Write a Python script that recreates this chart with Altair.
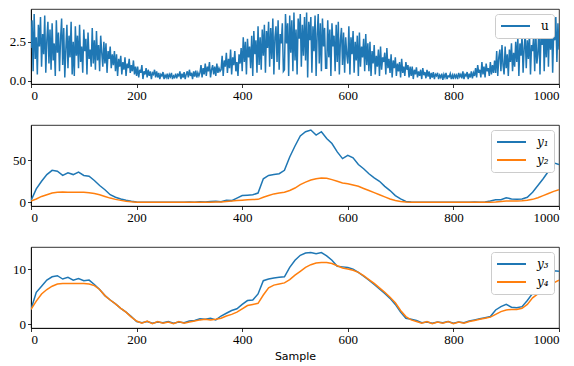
import altair as alt
import pandas as pd

# ---- data ----
u_samples = list(range(0, 1001, 2))
u_values = [
    2.1, 3.9, 0.6, 4.3, 1.4, 2.8, 0.4, 3.6, 2.2, 4.1, 0.9, 3.0, 1.7, 4.2, 0.5, 2.6, 3.8, 1.1, 3.3, 0.7,
    3.7, 1.3, 2.4, 0.3, 3.9, 1.8, 3.1, 0.6, 2.7, 4.0, 1.0, 3.4, 0.2, 2.0, 3.6, 0.8, 2.9, 1.5, 3.8, 0.4,
    2.5, 0.3, 3.5, 1.6, 2.9, 0.8, 3.6, 1.2, 2.2, 0.5, 3.3, 1.9, 2.7, 0.4, 3.1, 1.4, 2.0, 0.9, 3.4, 1.1,
    2.6, 0.7, 3.2, 1.3, 2.3, 0.6, 2.9, 1.8, 0.9, 2.5, 1.1, 2.4, 0.5, 1.9, 1.4, 2.2, 0.8, 1.7, 1.0, 1.9,
    0.6, 1.7, 0.3, 1.4, 0.9, 1.6, 0.4, 1.2, 0.7, 1.5, 0.3, 1.1, 0.8, 1.4, 0.5, 1.0, 0.6, 1.3, 0.4, 0.9,
    0.3, 0.9, 0.2, 0.7, 0.5, 1.0, 0.1, 0.6, 0.4, 0.8, 0.2, 0.7, 0.3, 0.6, 0.1, 0.5, 0.4, 0.7, 0.2, 0.6,
    0.2, 0.5, 0.1, 0.4, 0.3, 0.55, 0.1, 0.35, 0.2, 0.45, 0.1, 0.4, 0.25, 0.5, 0.1, 0.3, 0.2, 0.45, 0.15, 0.4,
    0.3, 0.6, 0.1, 0.45, 0.2, 0.55, 0.1, 0.4, 0.6, 0.2, 0.7, 0.3, 0.5, 0.1, 0.6, 0.25, 0.65, 0.2, 0.5, 0.3,
    0.5, 1.0, 0.2, 0.8, 0.4, 1.1, 0.3, 0.9, 0.6, 1.2, 0.2, 0.7, 1.0, 0.4, 0.9, 0.3, 1.1, 0.5, 0.8, 0.6,
    0.7, 1.6, 0.3, 1.3, 0.9, 1.8, 0.5, 1.4, 0.8, 2.0, 0.4, 1.5, 1.0, 1.9, 0.6, 1.2, 0.3, 1.7, 1.1, 2.1,
    0.6, 2.8, 1.2, 2.5, 0.4, 2.7, 1.5, 2.2, 0.8, 2.9, 0.3, 3.2, 1.7, 2.6, 0.5, 3.5, 1.0, 2.8, 0.7, 3.3,
    1.6, 3.6, 0.5, 3.2, 2.1, 3.8, 0.9, 3.4, 1.4, 4.0, 0.4, 2.8, 3.5, 1.2, 3.9, 0.7, 3.0, 2.4, 3.7, 0.6,
    0.7, 4.3, 2.4, 3.7, 0.3, 4.2, 1.8, 3.9, 0.6, 4.4, 1.3, 3.3, 0.4, 4.0, 2.7, 4.3, 0.9, 3.6, 1.6, 4.1,
    1.3, 4.4, 0.2, 3.8, 2.6, 4.1, 0.5, 3.5, 1.9, 4.2, 0.3, 3.0, 4.3, 1.1, 3.7, 0.6, 4.0, 2.2, 3.4, 0.8,
    0.8, 3.9, 1.5, 3.3, 0.3, 3.7, 2.2, 2.9, 0.6, 3.6, 1.2, 3.8, 0.4, 2.6, 3.4, 1.0, 3.1, 0.5, 2.8, 1.7,
    1.1, 3.5, 0.4, 2.8, 1.7, 3.2, 0.5, 2.5, 1.3, 2.9, 0.3, 3.1, 0.9, 2.2, 1.5, 2.7, 0.6, 3.0, 1.0, 2.4,
    0.6, 2.5, 0.3, 1.9, 1.1, 2.3, 0.4, 1.6, 0.9, 2.0, 0.3, 2.2, 0.7, 1.5, 1.2, 1.8, 0.4, 2.1, 0.8, 1.4,
    0.5, 1.7, 0.2, 1.3, 0.8, 1.5, 0.3, 1.1, 0.6, 1.2, 0.2, 1.4, 0.5, 0.9, 0.3, 1.2, 0.7, 1.0, 0.2, 0.9,
    0.3, 0.9, 0.1, 0.7, 0.4, 0.85, 0.2, 0.6, 0.3, 0.7, 0.1, 0.8, 0.35, 0.55, 0.15, 0.7, 0.25, 0.6, 0.1, 0.5,
    0.2, 0.55, 0.1, 0.4, 0.3, 0.5, 0.1, 0.35, 0.2, 0.45, 0.05, 0.4, 0.2, 0.5, 0.1, 0.3, 0.25, 0.45, 0.1, 0.35,
    0.1, 0.45, 0.2, 0.35, 0.1, 0.5, 0.25, 0.4, 0.15, 0.6, 0.1, 0.4, 0.3, 0.55, 0.1, 0.45, 0.2, 0.6, 0.15, 0.5,
    0.3, 0.8, 0.2, 1.0, 0.5, 0.7, 0.2, 1.2, 0.4, 0.9, 0.2, 1.1, 0.6, 0.8, 0.3, 1.2, 0.4, 1.0, 0.5, 1.3,
    0.5, 1.9, 0.3, 1.5, 2.0, 0.6, 2.3, 1.0, 0.4, 2.2, 0.8, 1.7, 0.3, 2.0, 1.2, 2.4, 0.6, 1.8, 0.9, 2.5,
    1.2, 2.8, 0.3, 2.4, 1.6, 2.9, 0.5, 2.1, 3.0, 0.8, 2.6, 1.4, 3.1, 0.4, 2.3, 1.9, 2.9, 0.6, 3.2, 1.1,
    1.7, 3.5, 0.4, 3.1, 2.3, 3.8, 0.6, 3.3, 1.5, 4.0, 0.9, 3.6, 2.0, 3.9, 0.5, 3.2, 2.6, 4.1, 1.2, 3.7,
    2.0,
]

y_samples = list(range(0, 1001, 10))
y1_values = [
    2, 16, 25, 33, 38, 37, 32, 35, 33, 36,
    32, 31, 26, 20, 15, 9, 6, 4, 2.5, 1.2,
    0.3, 0.2, 0, 0.1, 0, 0.1, 0, 0.1, 0.2, 0.1,
    0.3, 0.2, 0.6, 0.4, 0.9, 1.2, 0.8, 2.5, 2, 5,
    8, 8.5, 9, 11, 28, 32, 33, 34, 38, 54,
    67, 79, 84, 86, 80, 84, 76, 70, 60, 52,
    56, 53, 45, 40, 34, 29, 25, 19, 14, 8,
    4, 1, 0.3, 0, 0.1, 0, 0.1, 0, 0.1, 0,
    0.1, 0, 0.2, 0.1, 0.3, 0.2, 0.5, 1.5, 3, 3,
    5.5, 4, 3.5, 4, 6, 12, 20, 28, 37, 47,
    45,
]
y2_values = [
    1.5, 4, 7, 9, 11, 12, 12.2, 12, 12, 12,
    12, 11.5, 10.5, 9, 7, 5, 3.5, 2.3, 1.3, 0.6,
    0.2, 0.1, 0, 0, 0, 0, 0, 0, 0, 0,
    0, 0, 0.1, 0.1, 0.2, 0.3, 0.5, 1, 1.5, 2,
    2.5, 3, 3.2, 3.5, 6, 8, 10, 11, 12, 14,
    17, 21, 24, 26.5, 28, 29, 28.5, 27, 25, 23,
    22, 20.5, 19, 16.5, 14, 11.5, 9, 6.5, 4, 2.2,
    1, 0.3, 0.1, 0, 0, 0, 0, 0, 0, 0,
    0, 0, 0, 0, 0, 0, 0.1, 0.2, 0.5, 1,
    1.5, 1.5, 1.6, 1.8, 2.5, 3.5, 5.5, 8, 10.5, 13,
    15,
]
y3_values = [
    2.7, 5.8, 6.9, 8.0, 8.6, 8.8, 8.2, 8.5, 8.0, 8.3,
    7.9, 8.0, 7.2, 6.3, 5.2, 4.4, 3.7, 2.9, 2.2, 1.4,
    0.5, 0.3, 0.5, 0.2, 0.4, 0.3, 0.5, 0.2, 0.4, 0.3,
    0.6, 0.7, 1.0, 0.9, 1.1, 0.8, 1.5, 2.0, 2.5, 2.8,
    3.6, 4.3, 4.4, 5.5, 7.9, 8.2, 8.4, 8.5, 8.6, 10.3,
    11.6, 12.5, 12.9, 13.0, 12.8, 13.0, 12.4, 11.6, 10.5, 10.4,
    10.3, 10.0, 9.4, 8.7, 8.0, 7.2, 6.4, 5.6, 4.7, 3.6,
    2.2, 1.1, 0.9, 0.7, 0.3, 0.4, 0.2, 0.4, 0.3, 0.5,
    0.2, 0.4, 0.3, 0.6, 0.8, 1.0, 1.2, 1.4, 2.6, 3.2,
    3.6, 3.1, 3.0, 3.2, 4.3, 5.6, 6.6, 7.7, 8.7, 9.7,
    9.6,
]
y4_values = [
    2.7, 4.2, 5.5, 6.3, 6.9, 7.3, 7.4, 7.4, 7.4, 7.4,
    7.4, 7.3, 7.0, 6.3, 5.2, 4.4, 3.7, 2.9, 2.2, 1.3,
    0.6, 0.2, 0.6, 0.1, 0.5, 0.2, 0.4, 0.1, 0.5, 0.2,
    0.4, 0.6, 0.8, 0.9, 0.8, 0.9, 1.1, 1.5, 1.8, 2.2,
    2.8, 3.4, 3.6, 3.8, 5.3, 6.6, 7.1, 7.3, 7.5, 8.1,
    8.9, 9.6, 10.3, 10.8, 11.1, 11.2, 11.2, 11.0, 10.6, 10.2,
    10.0, 9.8, 9.4, 8.8, 8.1, 7.4, 6.6, 5.8, 4.9, 3.9,
    2.5, 1.4, 0.8, 0.5, 0.2, 0.5, 0.1, 0.4, 0.2, 0.5,
    0.1, 0.4, 0.2, 0.5, 0.7, 0.9, 1.1, 1.3, 1.8, 2.3,
    2.6, 2.7, 2.7, 2.9, 3.6, 4.8, 5.5, 6.2, 6.8, 7.5,
    8.0,
]

x_ticks = [0, 200, 400, 600, 800, 1000]
BLUE = "#1f77b4"
ORANGE = "#ff7f0e"
TICK_FONT = "Liberation Serif"


def long_df(samples, series):
    rows = []
    for order, (name, vals) in enumerate(series):
        for s, v in zip(samples, vals):
            rows.append({"sample": s, "value": v, "series": name, "k": order})
    return pd.DataFrame(rows)


def panel(df, names, colors, ydom, yticks, yfmt, height, italic, xtitle=False):
    xaxis = alt.Axis(values=x_ticks, format="d", title="Sample" if xtitle else None,
                     labelFont=TICK_FONT, labelFontSize=13,
                     titleFont="DejaVu Sans", titleFontSize=11, titleFontWeight="normal",
                     titlePadding=4)
    return alt.Chart(df).mark_line(strokeWidth=1.5, clip=True).encode(
        x=alt.X("sample:Q", scale=alt.Scale(domain=[0, 1000], nice=False, zero=False),
                axis=xaxis),
        y=alt.Y("value:Q", scale=alt.Scale(domain=ydom, nice=False, zero=False),
                axis=alt.Axis(values=yticks, format=yfmt, title=None,
                              labelFont=TICK_FONT, labelFontSize=13,
                              minExtent=22, maxExtent=22)),
        color=alt.Color("series:N", scale=alt.Scale(domain=names, range=colors),
                        legend=alt.Legend(title=None, orient="top-right", offset=5,
                                          fillColor="white", strokeColor="#cccccc",
                                          cornerRadius=3, padding=5, clipHeight=14,
                                          symbolType="stroke", symbolSize=841,
                                          symbolStrokeWidth=2, labelOffset=10,
                                          labelFont="DejaVu Serif", labelFontSize=12,
                                          labelFontStyle="italic" if italic else "normal",
                                          rowPadding=4)),
        detail="k:N",
    ).properties(width=528, height=height)


df_u = long_df(u_samples, [("u", u_values)])
df_12 = long_df(y_samples, [("y₁", y1_values), ("y₂", y2_values)])
df_34 = long_df(y_samples, [("y₃", y3_values), ("y₄", y4_values)])

p1 = panel(df_u, ["u"], [BLUE], [-0.22, 4.62], [0, 2.5], ".1f", 75, False)
p2 = panel(df_12, ["y₁", "y₂"], [BLUE, ORANGE], [-4.4, 92], [0, 50], "d", 81, True)
p3 = panel(df_34, ["y₃", "y₄"], [BLUE, ORANGE], [-0.67, 14], [0, 10], "d", 81, True, xtitle=True)

chart = alt.vconcat(p1, p2, p3, spacing=21, padding=0).resolve_scale(
    color="independent", y="independent", x="independent"
).resolve_legend(color="independent").configure_view(
    stroke="black", strokeWidth=0.8
).configure_axis(
    domainColor="black", domainWidth=0.8, tickColor="black", tickWidth=0.8,
    tickSize=3.5, labelColor="black",
    labelPadding=2, grid=False, titleColor="black"
).configure_legend(labelColor="black")

chart.save("out.html", embed_options={"renderer": "svg", "actions": False})
